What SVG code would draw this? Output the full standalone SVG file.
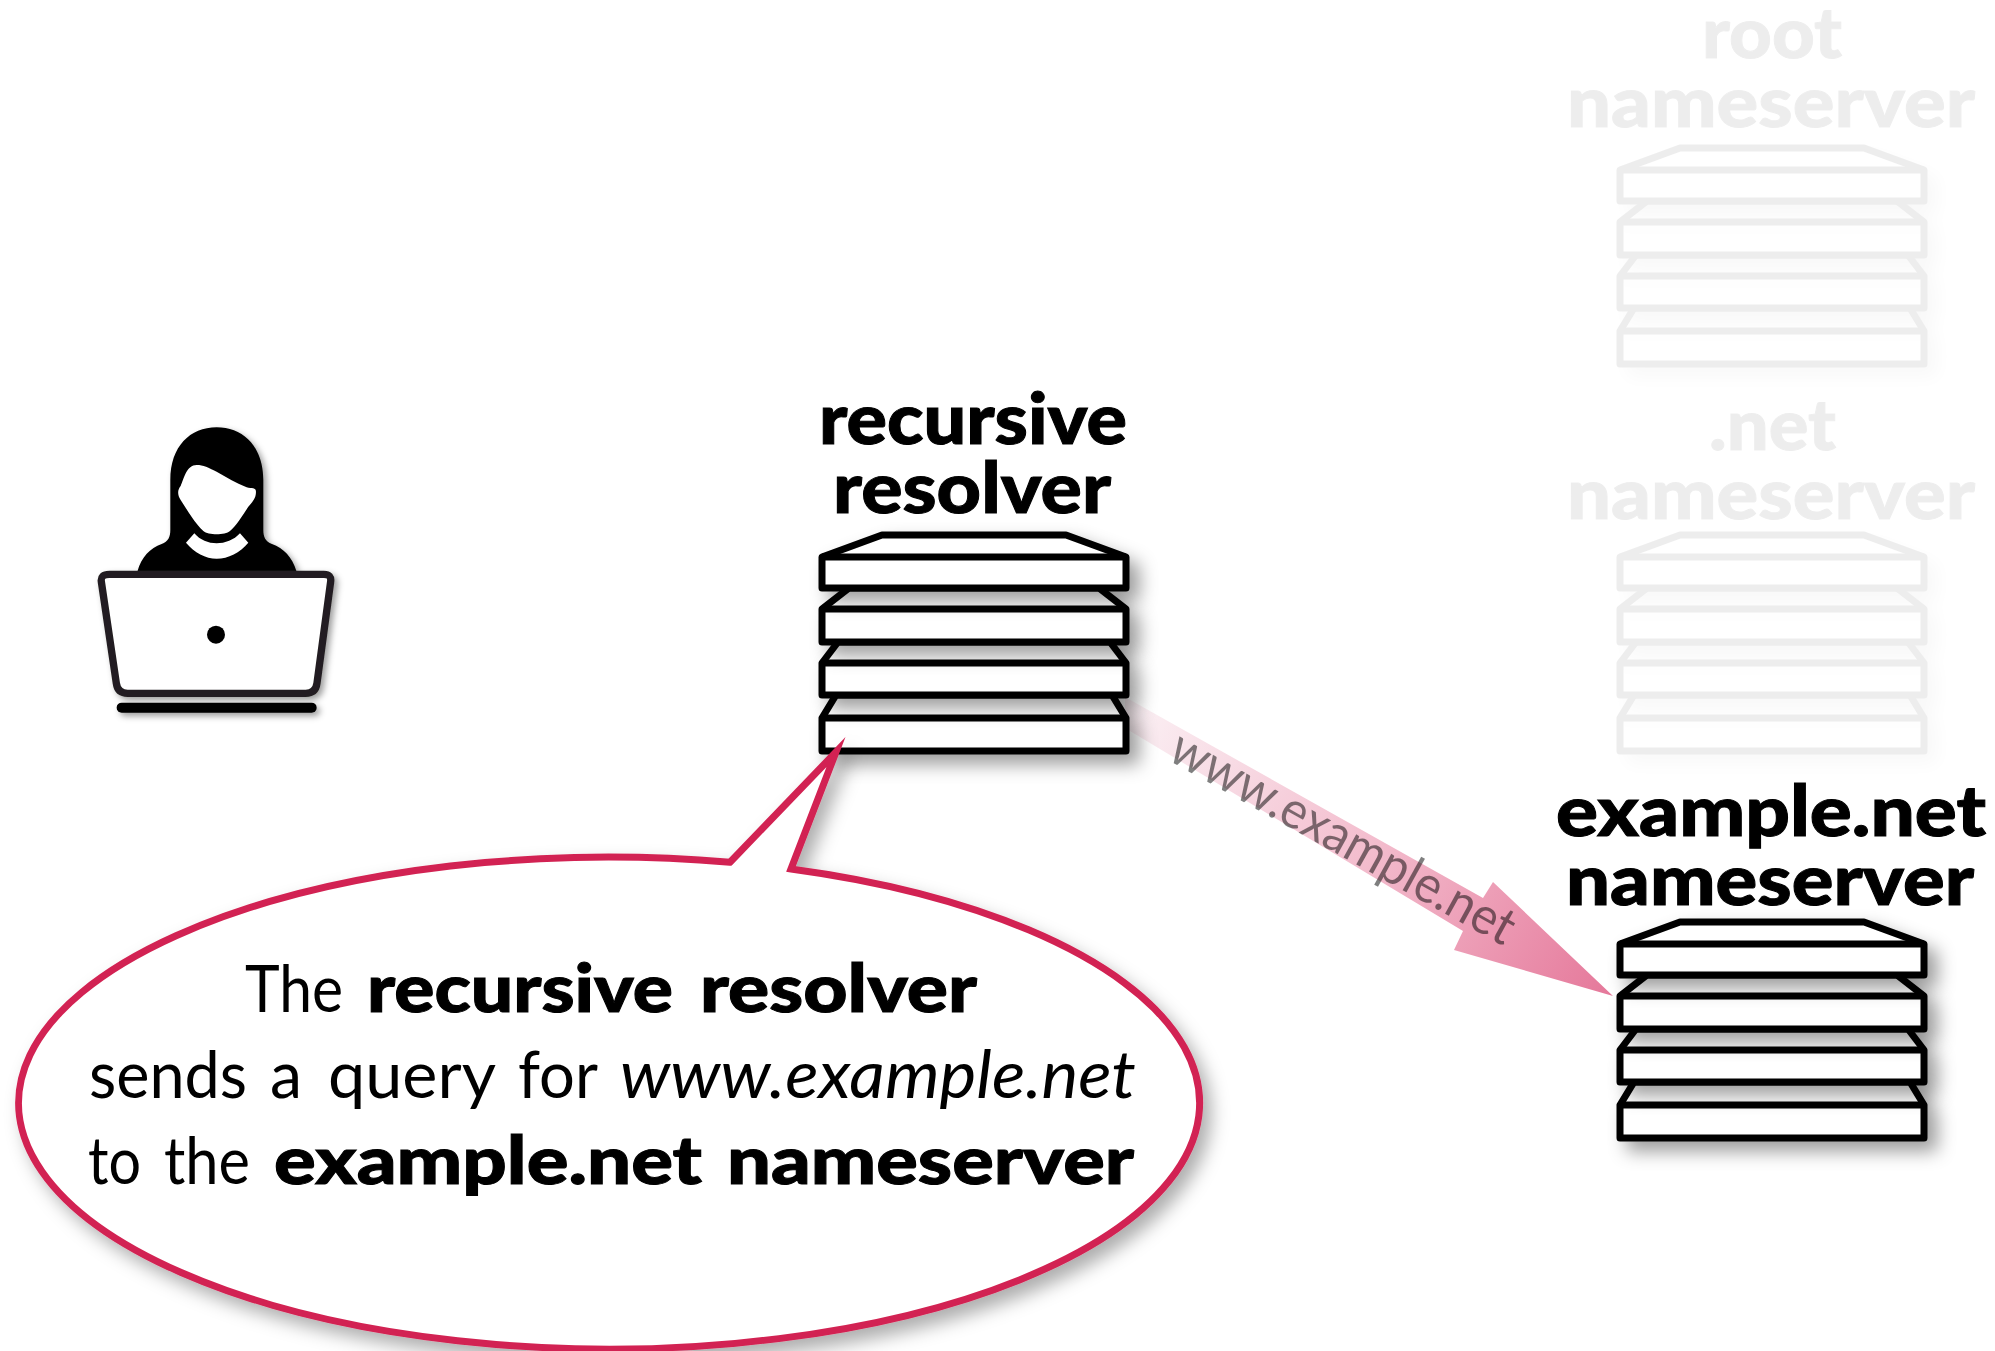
<svg xmlns="http://www.w3.org/2000/svg" xmlns:xlink="http://www.w3.org/1999/xlink" width="1995" height="1351" viewBox="0 0 1995 1351">
<style>
text{font-family:"Lato","Liberation Sans",sans-serif;fill:#000}
.h{font-size:70px;font-weight:900;stroke:#000;stroke-width:1}
.t{font-size:66px;font-weight:400}
.t.b{font-weight:900;stroke:#000;stroke-width:1}
.lay{fill:#fff;stroke:#000;stroke-width:7;stroke-linejoin:round}
</style>
<defs>
<filter id="sh" x="-30%" y="-80%" width="170%" height="300%"><feDropShadow dx="10" dy="10" stdDeviation="9" flood-color="#000" flood-opacity=".38"/></filter>
<filter id="shu" x="-30%" y="-30%" width="170%" height="170%"><feDropShadow dx="10" dy="10" stdDeviation="9" flood-color="#000" flood-opacity=".38"/></filter>
<filter id="shb" x="-10%" y="-10%" width="125%" height="130%"><feDropShadow dx="8" dy="10" stdDeviation="9" flood-color="#000" flood-opacity=".32"/></filter>
<linearGradient id="ag" gradientUnits="userSpaceOnUse" x1="1130" y1="712" x2="1612" y2="994">
<stop offset="0" stop-color="#fbf0f4"/><stop offset=".5" stop-color="#f3bccd"/><stop offset="1" stop-color="#e5789a"/>
</linearGradient>
<g id="server">
<g filter="url(#sh)" class="lay"><path d="M822 718L836 695H1112L1126 718V751H822Z"/><path d="M822 718H1126" fill="none"/></g>
<g filter="url(#sh)" class="lay"><path d="M822 663L838 642H1110L1126 663V695H822Z"/><path d="M822 663H1126" fill="none"/></g>
<g filter="url(#sh)" class="lay"><path d="M822 609L849 588H1099L1126 609V642H822Z"/><path d="M822 609H1126" fill="none"/></g>
<g filter="url(#sh)" class="lay"><path d="M822 557L882 535H1066L1126 557V588H822Z"/><path d="M822 557H1126" fill="none"/></g>
</g>
</defs>
<rect width="1995" height="1351" fill="#fff"/>
<g id="connectors">
<path d="M1125 697L1483 898L1493 882L1613 996L1454 950L1463 931L1125 728Z" fill="url(#ag)"/>
<text transform="translate(1166 759) rotate(29)" font-size="52" textLength="386" lengthAdjust="spacingAndGlyphs" fill-opacity=".5" style="fill:#000">www.example.net</text>
</g>
<g id="root-nameserver" opacity=".065">
<use xlink:href="#server" href="#server" transform="translate(798 -387)"/>
<text class="h" x="1702" y="58" textLength="140" lengthAdjust="spacingAndGlyphs">root</text>
<text class="h" x="1567" y="127" textLength="408" lengthAdjust="spacingAndGlyphs">nameserver</text>
</g>
<g id="net-nameserver" opacity=".065">
<use xlink:href="#server" href="#server" transform="translate(798 0)"/>
<text class="h" x="1709" y="450" textLength="127" lengthAdjust="spacingAndGlyphs">.net</text>
<text class="h" x="1567" y="519" textLength="408" lengthAdjust="spacingAndGlyphs">nameserver</text>
</g>
<g id="recursive-resolver">
<use xlink:href="#server" href="#server"/>
<text class="h" x="819" y="444" textLength="308" lengthAdjust="spacingAndGlyphs">recursive</text>
<text class="h" x="833" y="513" textLength="278" lengthAdjust="spacingAndGlyphs">resolver</text>
</g>
<g id="example-nameserver">
<use xlink:href="#server" href="#server" transform="translate(798 387)"/>
<text class="h" x="1556" y="836" textLength="430" lengthAdjust="spacingAndGlyphs">example.net</text>
<text class="h" x="1566" y="905" textLength="408" lengthAdjust="spacingAndGlyphs">nameserver</text>
</g>
<g id="user">
<g transform="translate(60 400) scale(.3333)" filter="url(#shu)">
<path d="M232 515C245 470 270 445 305 432C325 425 331 410 331 390V240C331 140 390 82 470 82C550 82 610 140 610 240V390C610 410 616 425 636 432C671 445 696 470 710 515Z" fill="#000"/>
<path d="M410 195C430 195 445 203 470 215C500 232 530 250 560 262C575 266 588 262 588 275C588 295 578 305 565 320C545 350 530 375 510 393C495 406 445 406 430 393C405 370 385 335 362 300C352 285 352 270 362 258C372 235 380 195 410 195Z" fill="#fff"/>
<path d="M378 428L403 400C420 420 445 430 470 430C495 430 522 420 540 400L565 428C540 458 505 476 470 476C437 476 403 458 378 428Z" fill="#fff"/>
<path d="M148 523H792Q815 523 812 545L771 850Q767 880 737 880H203Q173 880 169 850L124 545Q121 523 148 523Z" fill="#fff" stroke="#231f20" stroke-width="22"/>
<circle cx="468" cy="704" r="27" fill="#000"/>
<rect x="170" y="908" width="600" height="30" rx="15" fill="#000"/>
</g>
</g>
<g id="callout">
<path d="M730 862.22L836 752L791 868.97A590.5 246 0 1 1 730 862.22Z" fill="#fff" stroke="#d22352" stroke-width="7" stroke-miterlimit="10" filter="url(#shb)"/>
<text class="t" x="245" y="1012" textLength="98" lengthAdjust="spacingAndGlyphs">The</text>
<text class="t b" x="367" y="1012" textLength="306" lengthAdjust="spacingAndGlyphs">recursive</text>
<text class="t b" x="700" y="1012" textLength="277" lengthAdjust="spacingAndGlyphs">resolver</text>
<text class="t" x="89" y="1098" textLength="158" lengthAdjust="spacingAndGlyphs">sends</text>
<text class="t" x="270" y="1098" textLength="32" lengthAdjust="spacingAndGlyphs">a</text>
<text class="t" x="328" y="1098" textLength="168" lengthAdjust="spacingAndGlyphs">query</text>
<text class="t" x="518" y="1098" textLength="80" lengthAdjust="spacingAndGlyphs">for</text>
<text class="t" x="620" y="1098" font-style="italic" textLength="516" lengthAdjust="spacingAndGlyphs">www.example.net</text>
<text class="t" x="88" y="1184" textLength="53" lengthAdjust="spacingAndGlyphs">to</text>
<text class="t" x="164" y="1184" textLength="86" lengthAdjust="spacingAndGlyphs">the</text>
<text class="t b" x="274" y="1184" textLength="428" lengthAdjust="spacingAndGlyphs">example.net</text>
<text class="t b" x="727" y="1184" textLength="407" lengthAdjust="spacingAndGlyphs">nameserver</text>
</g>
</svg>
